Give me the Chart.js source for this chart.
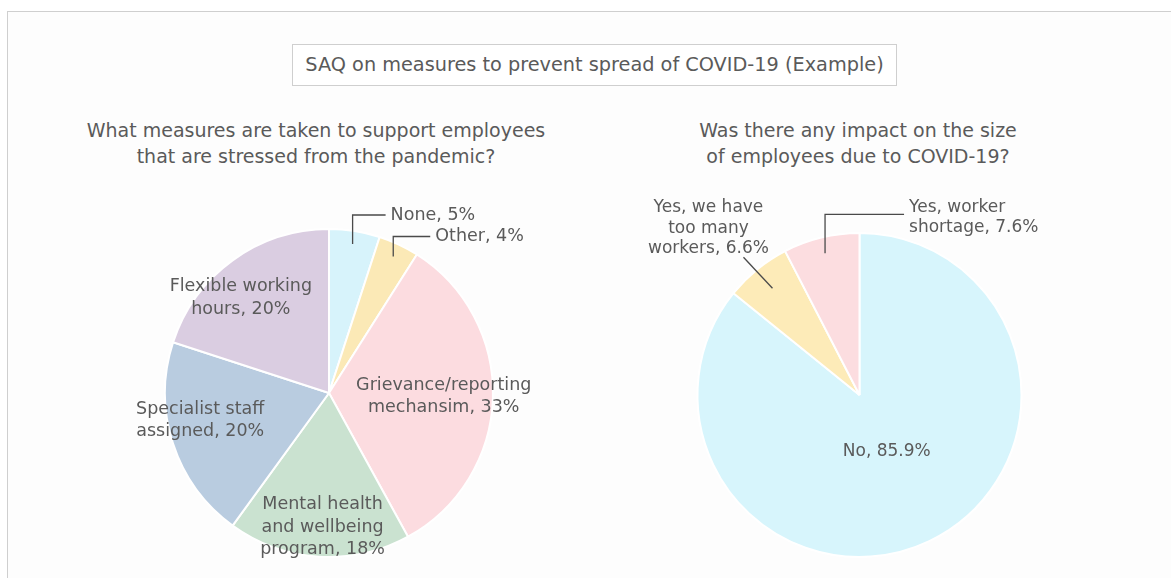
<!DOCTYPE html>
<html>
<head>
<meta charset="utf-8">
<script src="https://cdn.jsdelivr.net/npm/chart.js@4"></script>
<style>
  html, body { margin: 0; padding: 0; background: #fff; }
  #page { position: relative; width: 1171px; height: 578px; overflow: hidden; font-family: "DejaVu Sans", sans-serif; color: #5a5a5a; }
  #frame { position: absolute; left: 7px; top: 11px; width: 1200px; height: 600px; border-left: 1px solid #cfcfcf; border-top: 1px solid #cfcfcf; background: #fdfdfd; }
  #title { position: absolute; left: 292px; top: 44px; width: 603px; height: 40px; border: 1px solid #cfcfcf; background: #fff; font-size: 19.3px; line-height: 40px; text-align: center; }
  .sub { position: absolute; top: 117px; font-size: 19px; line-height: 26px; text-align: center; }
  canvas { position: absolute; top: 0; }
</style>
</head>
<body>
<div id="page">
  <div id="frame"></div>
  <div id="title">SAQ on measures to prevent spread of COVID-19 (Example)</div>
  <div class="sub" style="left:56px;width:520px;">What measures are taken to support employees<br>that are stressed from the pandemic?</div>
  <div class="sub" style="left:658px;width:400px;">Was there any impact on the size<br>of employees due to COVID-19?</div>
  <canvas id="chartLeft" width="585" height="578" style="left:0;"></canvas>
  <canvas id="chartRight" width="586" height="578" style="left:585px;"></canvas>
</div>
<script>
// LEFT PIE - support measures
const leftLabels = ['None', 'Other', 'Grievance/reporting mechansim', 'Mental health and wellbeing program', 'Specialist staff assigned', 'Flexible working hours'];
const leftValues = [5, 4, 33, 18, 20, 20];
const leftText = [['None, 5%'], ['Other, 4%'], ['Grievance/reporting', 'mechansim, 33%'], ['Mental health', 'and wellbeing', 'program, 18%'], ['Specialist staff', 'assigned, 20%'], ['Flexible working', 'hours, 20%']];

// RIGHT PIE - impact on size of employees
const rightLabels = ['No', 'Yes, we have too many workers', 'Yes, worker shortage'];
const rightValues = [85.9, 6.6, 7.6];
const rightText = [['No, 85.9%'], ['Yes, we have', 'too many', 'workers, 6.6%'], ['Yes, worker', 'shortage, 7.6%']];

const leftColors = ['#d7f3fb', '#fbe9b6', '#fcdce0', '#cae2d0', '#b9cce0', '#dacde1'];
const rightColors = ['#d7f5fc', '#fdebb8', '#fcdde0'];

// label placement: f = fraction of radius along mid angle, dx/dy nudge,
// callout: elbow (rise up then run right) or diagonal (ex, ey)
const leftPlace = [
    { f: 0.92, type: 'elbow', rise: 29, run: 33 },
    { f: 0.92, type: 'elbow', rise: 20, run: 37 },
    { f: 0.70, dx: 0, dy: 0 },
    { f: 0.82, dx: 2, dy: 0 },
    { f: 0.80, dx: -4, dy: -13 },
    { f: 0.79, dx: -12, dy: 10 },
];
const rightPlace = [
    { f: 0.39, dx: 0, dy: 0 },
    { f: 0.85, type: 'diag', ex: -29, ey: -31, tx: -35, ty: -29 },
    { f: 0.90, type: 'elbow', rise: 39, run: 79 },
];

const sliceLabels = {
    id: 'sliceLabels',
    afterDatasetsDraw(chart, args, opts) {
        const ctx = chart.ctx;
        const arcs = chart.getDatasetMeta(0).data;
        ctx.save();
        ctx.font = opts.size + 'px "DejaVu Sans", sans-serif';
        ctx.fillStyle = '#5a5a5a';
        ctx.strokeStyle = '#4a4a4a';
        ctx.lineWidth = 1.3;
        ctx.textBaseline = 'middle';
        arcs.forEach((arc, i) => {
            const p = opts.place[i];
            const lines = opts.text[i];
            const mid = (arc.startAngle + arc.endAngle) / 2;
            const ax = arc.x + Math.cos(mid) * arc.outerRadius * p.f;
            const ay = arc.y + Math.sin(mid) * arc.outerRadius * p.f;
            const lh = opts.lineHeight;
            if (p.type === 'elbow') {
                ctx.beginPath();
                ctx.moveTo(ax, ay);
                ctx.lineTo(ax, ay - p.rise);
                ctx.lineTo(ax + p.run, ay - p.rise);
                ctx.stroke();
                ctx.textAlign = 'left';
                const y0 = ay - p.rise - (lines.length > 1 ? 7 : 0);
                lines.forEach((t, k) => ctx.fillText(t, ax + p.run + 5, y0 + k * lh));
            } else if (p.type === 'diag') {
                ctx.beginPath();
                ctx.moveTo(ax, ay);
                ctx.lineTo(ax + p.ex, ay + p.ey);
                ctx.stroke();
                ctx.textAlign = 'center';
                const cy = ay + p.ey + p.ty;
                lines.forEach((t, k) => ctx.fillText(t, ax + p.ex + p.tx, cy + (k - (lines.length - 1) / 2) * lh));
            } else {
                ctx.textAlign = 'center';
                const cx = ax + p.dx, cy = ay + p.dy;
                lines.forEach((t, k) => ctx.fillText(t, cx, cy + (k - (lines.length - 1) / 2) * lh));
            }
        });
        ctx.restore();
    }
};

const chartLeft = new Chart(document.querySelector('#chartLeft'), {
    type: 'pie',
    data: {
        labels: leftLabels,
        datasets: [{
            data: leftValues,
            backgroundColor: leftColors,
            borderColor: '#ffffff',
            borderWidth: 2,
        }]
    },
    options: {
        responsive: false,
        animation: false,
        layout: { padding: { left: 164, right: 91, top: 228, bottom: 20 } },
        plugins: {
            legend: { display: false },
            tooltip: { enabled: false },
            sliceLabels: { text: leftText, place: leftPlace, size: 17.5, lineHeight: 22.5 },
        }
    },
    plugins: [sliceLabels],
});

const chartRight = new Chart(document.querySelector('#chartRight'), {
    type: 'pie',
    data: {
        labels: rightLabels,
        datasets: [{
            data: rightValues,
            backgroundColor: rightColors,
            borderColor: '#ffffff',
            borderWidth: 2,
        }]
    },
    options: {
        responsive: false,
        animation: false,
        layout: { padding: { left: 111.5, right: 148.5, top: 232, bottom: 20 } },
        plugins: {
            legend: { display: false },
            tooltip: { enabled: false },
            sliceLabels: { text: rightText, place: rightPlace, size: 17, lineHeight: 20.5 },
        }
    },
    plugins: [sliceLabels],
});
</script>
</body>
</html>
